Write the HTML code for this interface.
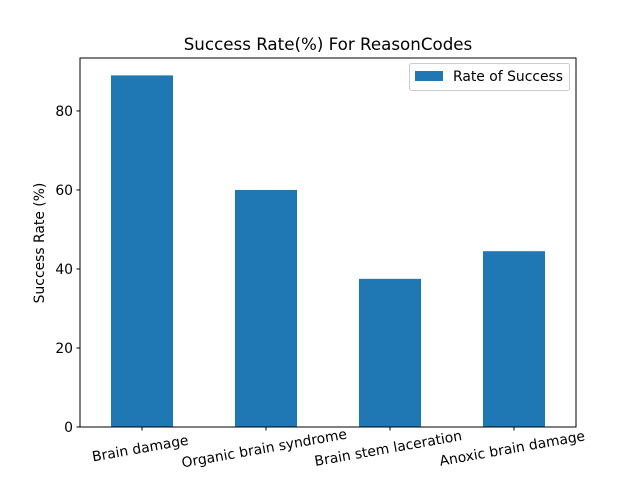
<!DOCTYPE html>
<html><head><meta charset="utf-8"><style>
body{margin:0;background:#fff}
svg{display:block;font-family:"DejaVu Sans","Liberation Sans",sans-serif}
</style></head><body>
<svg id="chart" width="640" height="480">
<rect width="640" height="480" fill="#fff"/>
<text x="328" y="50" text-anchor="middle" font-size="16.7">Success Rate(%) For ReasonCodes</text>
<g id="plot"></g>
<text transform="translate(44,243) rotate(-90)" text-anchor="middle" font-size="13.9">Success Rate (%)</text>
<g>
<rect x="409.5" y="63.5" width="160" height="27" rx="2" fill="#fff" stroke="#ccc"/>
<rect x="415" y="71" width="28" height="10" fill="#1f77b4"/>
<text x="453" y="81" font-size="13.9">Rate of Success</text>
</g>
</svg>
<script>
const categories=["Brain damage","Organic brain syndrome","Brain stem laceration","Anoxic brain damage"];
const values=[89,60,37.5,44.5];
const yTicks=[0,20,40,60,80];
const L=80,R=576,T=58,B=427,yMax=93.4;
const ns="http://www.w3.org/2000/svg";
const g=document.getElementById("plot");
function y(v){return B-(v/yMax)*(B-T);}
function x(i){return L+(i+0.5)*(R-L)/categories.length;}
const bw=0.5*(R-L)/categories.length;
function mk(t,a){const e=document.createElementNS(ns,t);for(const k in a)e.setAttribute(k,a[k]);g.appendChild(e);return e;}
values.forEach((v,i)=>{
 const r=mk("rect",{x:x(i)-bw/2,y:y(v),width:bw,height:B-y(v),fill:"#1f77b4"});
 
 
 mk("line",{x1:x(i),x2:x(i),y1:B,y2:B+3.5,stroke:"#000"});
 const t=mk("text",{transform:`translate(${x(i)-1},${B+26}) rotate(-10)`,"text-anchor":"middle","font-size":"13.9"});
 t.textContent=categories[i];
 
 
});
yTicks.forEach(v=>{
 mk("line",{x1:L-3.5,x2:L,y1:y(v),y2:y(v),stroke:"#000"});
 const t=mk("text",{x:L-7,y:y(v)+5,"text-anchor":"end","font-size":"13.9"});
 t.textContent=v;
 
 
});
const f=mk("rect",{x:L,y:T,width:R-L,height:B-T,fill:"none",stroke:"#000","stroke-width":"1"});


</script>
</body></html>
